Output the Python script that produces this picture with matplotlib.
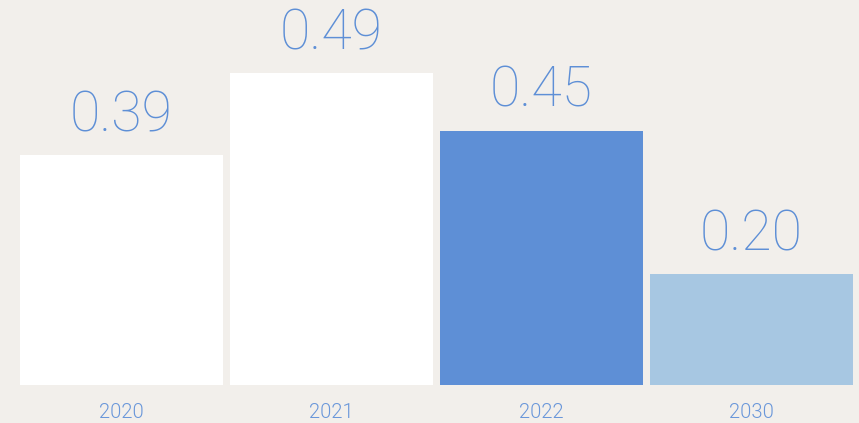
import matplotlib
matplotlib.use("Agg")
import matplotlib.pyplot as plt

years = ["2020", "2021", "2022", "2030"]
value_labels = ["0.39", "0.49", "0.45", "0.20"]
bar_heights = [0.39, 0.529, 0.431, 0.188]
bar_colors = ["#ffffff", "#ffffff", "#5e8fd6", "#a7c7e2"]

bg = "#f2efeb"
txt = "#5e8fd6"

fig = plt.figure(figsize=(8.59, 4.23), dpi=100, facecolor=bg)
ax = fig.add_axes([0, 38/423, 1, 385/423])
ax.set_facecolor(bg)
x = list(range(len(years)))
bars = ax.bar(x, bar_heights, width=203/210, color=bar_colors, linewidth=0)
ax.set_xlim(-121.5/210, (859-121.5)/210)
ax.set_ylim(0, 385/(230/0.39))
for xi, h, lab in zip(x, bar_heights, value_labels):
    ax.annotate(lab, (xi, h), xytext=(0, 13), textcoords="offset pixels",
                ha="center", va="bottom", fontsize=40, color=txt,
                family="Roboto", fontweight=200)
ax.set_xticks(x)
ax.set_xticklabels(years, fontsize=14.5, color="#6a97da", family="Roboto", fontweight=300)
ax.tick_params(axis="x", length=0, pad=13)
ax.set_yticks([])
for s in ax.spines.values():
    s.set_visible(False)
fig.savefig("out.png", dpi=100, facecolor=bg)
